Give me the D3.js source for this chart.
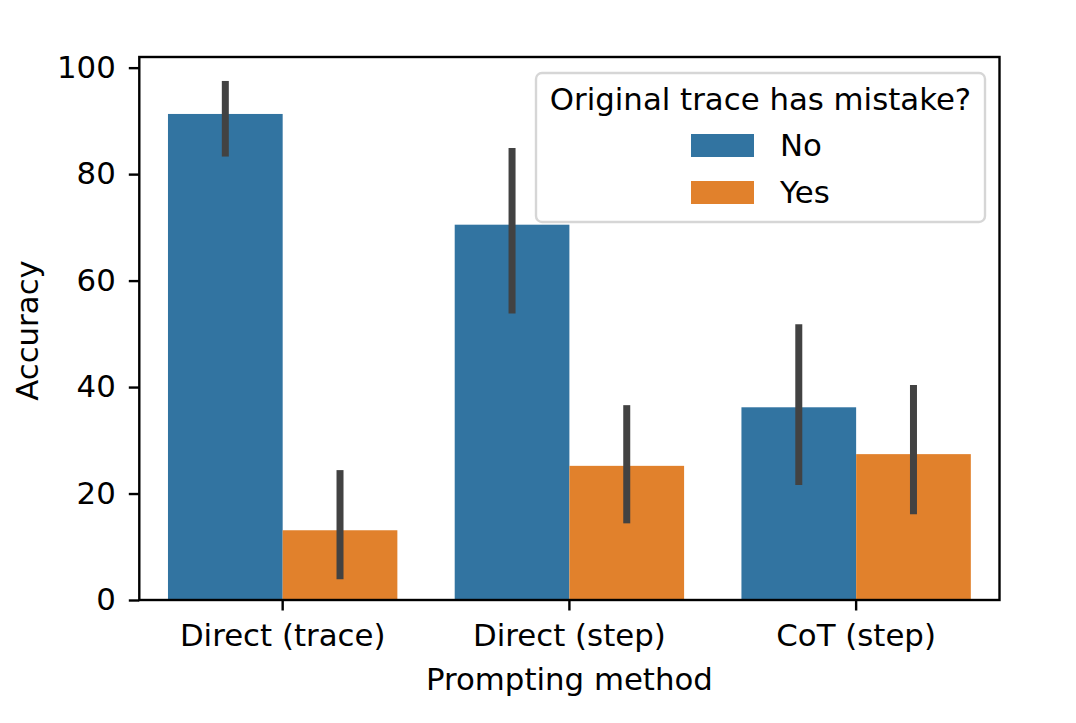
<!DOCTYPE html>
<html>
<head>
<meta charset="utf-8">
<script src="https://cdn.jsdelivr.net/npm/d3@7"></script>
<style>
  body { margin: 0; background: #fff; }
  svg text { font-family: "DejaVu Sans", sans-serif; fill: #000; }
</style>
</head>
<body>
<div id="chart"></div>
<script>
// data
const methods = ['Direct (trace)', 'Direct (step)', 'CoT (step)']
const hues = ['No', 'Yes']
const accNo = [91.3, 70.5, 36.2]
const accYes = [13.1, 25.2, 27.4]
const ciNoLow = [83.3, 53.8, 21.6]
const ciNoHigh = [97.5, 84.9, 51.8]
const ciYesLow = [3.9, 14.4, 16.1]
const ciYesHigh = [24.4, 36.6, 40.4]
const yTicks = [0, 20, 40, 60, 80, 100]
const colors = ['#3274a1', '#e1812c']

const width = 1076, height = 723
const margins = { top: 57, right: 76.5, bottom: 123, left: 139.3 }
const fontSize = 30.8

const rows = []
methods.forEach((m, i) => {
  rows.push({ method: m, hue: 'No', value: accNo[i], lo: ciNoLow[i], hi: ciNoHigh[i] })
  rows.push({ method: m, hue: 'Yes', value: accYes[i], lo: ciYesLow[i], hi: ciYesHigh[i] })
})

const svg = d3.select('#chart').append('svg')
  .attr('width', width)
  .attr('height', height)

const innerW = width - margins.left - margins.right
const innerH = height - margins.top - margins.bottom

const chart = svg.append('g')
  .attr('transform', `translate(${margins.left},${margins.top})`)

const x = d3.scaleBand().domain(methods).range([0, innerW]).paddingInner(0.2).paddingOuter(0.1)
const xHue = d3.scaleBand().domain(hues).range([0, x.bandwidth()])
const y = d3.scaleLinear().domain([0, 102]).range([innerH, 0])
const color = d3.scaleOrdinal().domain(hues).range(colors)

// bars
chart.selectAll('rect.bar')
  .data(rows)
  .join('rect')
  .attr('class', 'bar')
  .attr('x', d => x(d.method) + xHue(d.hue))
  .attr('y', d => y(d.value))
  .attr('width', xHue.bandwidth())
  .attr('height', d => y(0) - y(d.value))
  .style('fill', d => color(d.hue))

// error bars
chart.selectAll('line.err')
  .data(rows)
  .join('line')
  .attr('class', 'err')
  .attr('x1', d => x(d.method) + xHue(d.hue) + xHue.bandwidth() / 2)
  .attr('x2', d => x(d.method) + xHue(d.hue) + xHue.bandwidth() / 2)
  .attr('y1', d => y(d.lo))
  .attr('y2', d => y(d.hi))
  .style('stroke', '#424242')
  .style('stroke-width', 7)

// axes
const xAxis = chart.append('g')
  .attr('transform', `translate(0,${innerH})`)
  .call(d3.axisBottom(x).tickSize(10.5).tickPadding(14))
const yAxis = chart.append('g')
  .call(d3.axisLeft(y).tickValues(yTicks).tickSize(10.5).tickPadding(13))

;[xAxis, yAxis].forEach(a => {
  a.select('.domain').remove()
  a.selectAll('line').style('stroke', '#000').style('stroke-width', 2.4)
  a.selectAll('text').style('font-size', fontSize + 'px').style('font-family', '"DejaVu Sans", sans-serif').style('fill', '#000')
})

// frame
chart.append('rect')
  .attr('width', innerW)
  .attr('height', innerH)
  .style('fill', 'none')
  .style('stroke', '#000')
  .style('stroke-width', 2.4)

// axis labels
svg.append('text')
  .attr('x', margins.left + innerW / 2)
  .attr('y', 690)
  .attr('text-anchor', 'middle')
  .style('font-size', fontSize + 'px')
  .text('Prompting method')

svg.append('text')
  .attr('transform', `translate(38,${margins.top + innerH / 2 + 2}) rotate(-90)`)
  .attr('text-anchor', 'middle')
  .style('font-size', fontSize + 'px')
  .text('Accuracy')

// legend
const legend = svg.append('g').attr('transform', 'translate(536,73)')
legend.append('rect')
  .attr('width', 449)
  .attr('height', 149)
  .attr('rx', 6)
  .style('fill', 'rgba(255,255,255,0.8)')
  .style('stroke', '#d6d6d6')
  .style('stroke-width', 2.4)
legend.append('text')
  .attr('x', 224.5)
  .attr('y', 37)
  .attr('text-anchor', 'middle')
  .style('font-size', fontSize + 'px')
  .text('Original trace has mistake?')
const items = legend.selectAll('g.item')
  .data(hues)
  .join('g')
  .attr('class', 'item')
  .attr('transform', (d, i) => `translate(155,${61 + i * 47})`)
items.append('rect')
  .attr('width', 63)
  .attr('height', 23)
  .style('fill', d => color(d))
items.append('text')
  .attr('x', 89)
  .attr('y', 22)
  .style('font-size', fontSize + 'px')
  .text(d => d)
</script>
</body>
</html>
